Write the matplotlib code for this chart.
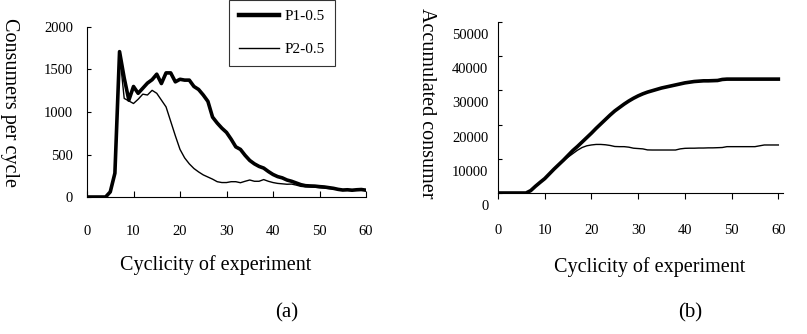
import matplotlib
matplotlib.use("Agg")
import matplotlib.pyplot as plt
import matplotlib.transforms as mtransforms

plt.rcParams["font.family"] = ["Liberation Serif", "DejaVu Serif"]

# data
cycles = list(range(61))

per_cycle_p1 = [0, 0, 0, 0, 0,
                60, 280, 1710, 1400, 1140,
                1300, 1220, 1280, 1340, 1380,
                1445, 1335, 1460, 1460, 1355,
                1385, 1375, 1375, 1300, 1265,
                1200, 1125, 940, 870, 810,
                760, 680, 590, 560, 490,
                430, 390, 360, 340, 300,
                265, 240, 225, 200, 185,
                165, 145, 133, 130, 128,
                122, 118, 110, 102, 90,
                82, 85, 80, 85, 88,
                80]

per_cycle_p2 = [0, 0, 0, 0, 0,
                60, 280, 1690, 1160, 1130,
                1100, 1150, 1210, 1200, 1255,
                1220, 1140, 1060, 890, 720,
                560, 460, 390, 335, 295,
                260, 235, 210, 180, 170,
                170, 180, 180, 168, 185,
                200, 185, 185, 205, 185,
                170, 160, 155, 150, 152,
                140, 125, 120, 118, 115,
                110, 105, 100, 95, 88,
                82, 80, 78, 80, 80,
                78]

accum_p1 = [0, 0, 0, 0, 0, 0, 0,
            700, 1950, 3100,
            4200, 5600, 7000, 8300, 9600,
            11000, 12400, 13600, 14900, 16200,
            17500, 18900, 20200, 21500, 22800,
            24000, 25000, 26000, 26900, 27700,
            28400, 29000, 29500, 29900, 30300,
            30700, 31000, 31300, 31600, 31900,
            32200, 32400, 32600, 32700, 32800,
            32800, 32850, 32900, 33200, 33300,
            33300, 33300, 33300, 33300, 33300,
            33300, 33300, 33300, 33300, 33300,
            33300]

accum_p2 = [0, 0, 0, 0, 0, 0, 0,
            700, 1950, 3100,
            4200, 5600, 7000, 8300, 9400,
            10500, 11500, 12500, 13300, 13800,
            14050, 14200, 14200, 14100, 13900,
            13600, 13550, 13550, 13400, 13100,
            13000, 12900, 12600, 12570, 12570,
            12570, 12570, 12570, 12570, 12900,
            13060, 13100, 13100, 13150, 13150,
            13200, 13200, 13250, 13300, 13550,
            13550, 13550, 13550, 13550, 13550,
            13550, 13800, 14040, 14040, 14040,
            14040]

series_labels = ["P1-0.5", "P2-0.5"]
x_ticks = [0, 10, 20, 30, 40, 50, 60]
y_ticks_a = [0, 500, 1000, 1500, 2000]
y_ticks_b = [0, 10000, 20000, 30000, 40000, 50000]

W, H = 807, 334
fig = plt.figure(figsize=(W / 100, H / 100), dpi=100)


def px_axes(left, top, right, bottom):
    return fig.add_axes([left / W, 1 - bottom / H, (right - left) / W, (bottom - top) / H])


def px_text(x, y, s, **kw):
    fig.text(x / W, 1 - y / H, s, ha="center", va="center", **kw)


def clean(ax):
    for side in ("top", "right"):
        ax.spines[side].set_visible(False)
    for side in ("left", "bottom"):
        ax.spines[side].set_linewidth(0.8)


THICK, THIN = 2.6, 1.0

# (a) consumers per cycle
ax1 = px_axes(87, 27, 366, 197)
l1, = ax1.plot(cycles, per_cycle_p1, color="black", lw=THICK, solid_joinstyle="round")
l2, = ax1.plot(cycles, per_cycle_p2, color="black", lw=THIN)
ax1.set_xlim(0, 60)
ax1.set_ylim(0, 2000)
ax1.set_xticks(x_ticks)
ax1.set_yticks(y_ticks_a)
clean(ax1)
ax1.tick_params(axis="x", direction="in", length=4, width=0.8, pad=20, labelsize=10.5)
ax1.tick_params(axis="y", direction="in", length=3, width=0.8, pad=10, labelsize=10.5)

# (b) accumulated consumers
ax2 = px_axes(498, 22, 783, 193)
ax2.plot(cycles, accum_p1, color="black", lw=THICK, solid_joinstyle="round")
ax2.plot(cycles, accum_p2, color="black", lw=THIN)
ax2.set_xlim(0, 61)
ax2.set_ylim(0, 50000)
ax2.set_xticks(x_ticks)
ax2.set_yticks(y_ticks_b)
clean(ax2)
ax2.tick_params(axis="x", direction="out", length=4, width=0.8, pad=18.5, labelsize=10.5)
ax2.tick_params(axis="y", direction="in", length=3, width=0.8, pad=7, labelsize=10.5)
shift = mtransforms.ScaledTranslation(0, -0.12, fig.dpi_scale_trans)
for lab in ax2.get_yticklabels():
    lab.set_transform(lab.get_transform() + shift)

leg = ax1.legend([l1, l2], series_labels, loc="lower left",
                 bbox_to_anchor=(229 / W, 1 - 66 / H), bbox_transform=fig.transFigure,
                 borderaxespad=0, fontsize=11, handlelength=2.6, handletextpad=0.4,
                 borderpad=0.65, labelspacing=1.25, fancybox=False, framealpha=1)
leg.get_frame().set_edgecolor("#333333")
leg.get_frame().set_linewidth(0.8)
leg.get_lines()[0].set_linewidth(3.2)

px_text(9, 103, "Consumers per cycle", rotation=-90, fontsize=14.5)
px_text(427, 103, "Accumulated consumer", rotation=-90, fontsize=14.5)
px_text(216, 265, "Cyclicity of experiment", fontsize=14.5)
px_text(650, 267, "Cyclicity of experiment", fontsize=14.5)
px_text(287, 313, "(a)", fontsize=15)
px_text(690, 313, "(b)", fontsize=15)

fig.savefig("out.png", dpi=100)
